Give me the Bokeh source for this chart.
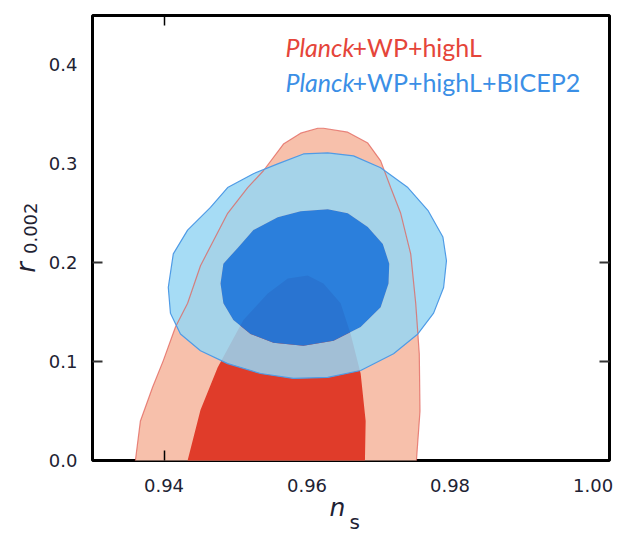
import math
from bokeh.plotting import figure
from bokeh.layouts import row, column
from bokeh.models import Range1d, FixedTicker, LinearAxis, Label
from bokeh.embed import file_html
from bokeh.resources import INLINE

# ---------------- data ----------------
# Planck+WP+highL, 95% region (n_s, r)
red95_ns = [0.9358, 0.9360, 0.9367, 0.9384, 0.9399, 0.9416, 0.9433, 0.9451, 0.9489, 0.9517,
            0.9539, 0.9567, 0.9591, 0.9615, 0.9623, 0.9657, 0.9685, 0.9703, 0.9717, 0.9731,
            0.9745, 0.9752, 0.9757, 0.9758, 0.9753, 0.9752]
red95_r = [-0.02, 0.000, 0.040, 0.074, 0.101, 0.135, 0.159, 0.197, 0.250, 0.276,
           0.293, 0.320, 0.331, 0.336, 0.336, 0.332, 0.321, 0.303, 0.276, 0.250,
           0.209, 0.159, 0.108, 0.050, 0.000, -0.02]
# Planck+WP+highL, 68% region
red68_ns = [0.9430, 0.9433, 0.9451, 0.9475, 0.9511, 0.9545, 0.9573, 0.9601, 0.9623, 0.9647,
            0.9661, 0.9675, 0.9682, 0.9681, 0.9681]
red68_r = [-0.02, 0.000, 0.051, 0.094, 0.142, 0.169, 0.184, 0.187, 0.179, 0.159,
           0.128, 0.088, 0.040, 0.000, -0.02]
# Planck+WP+highL+BICEP2, 95% region
bicep95_ns = [0.9406, 0.9413, 0.9433, 0.9465, 0.9489, 0.9525, 0.9559, 0.9595, 0.9629, 0.9665,
              0.9703, 0.9741, 0.9769, 0.9790, 0.9795, 0.9791, 0.9777, 0.9755, 0.9721, 0.9675,
              0.9629, 0.9581, 0.9535, 0.9489, 0.9451, 0.9423, 0.9409]
bicep95_r = [0.175, 0.209, 0.233, 0.256, 0.276, 0.290, 0.300, 0.310, 0.311, 0.308,
             0.296, 0.276, 0.253, 0.226, 0.202, 0.175, 0.149, 0.128, 0.108, 0.091,
             0.084, 0.083, 0.088, 0.098, 0.111, 0.128, 0.149]
# Planck+WP+highL+BICEP2, 68% region
bicep68_ns = [0.9479, 0.9483, 0.9503, 0.9525, 0.9559, 0.9591, 0.9629, 0.9657, 0.9685, 0.9706,
              0.9715, 0.9714, 0.9703, 0.9675, 0.9637, 0.9595, 0.9553, 0.9521, 0.9497, 0.9483]
bicep68_r = [0.179, 0.199, 0.215, 0.233, 0.246, 0.252, 0.254, 0.250, 0.236, 0.219,
             0.199, 0.179, 0.155, 0.135, 0.121, 0.116, 0.119, 0.128, 0.142, 0.159]

x_ticks = [0.94, 0.96, 0.98, 1.00]
x_tick_labels = ["0.94", "0.96", "0.98", "1.00"]
y_ticks = [0.0, 0.1, 0.2, 0.3, 0.4]
y_tick_labels = ["0.0", "0.1", "0.2", "0.3", "0.4"]
legend_italic = "Planck"
legend_red_rest = "+WP+highL"
legend_blue_rest = "+WP+highL+BICEP2"
x_title, x_title_sub = "n", "s"
y_title, y_title_sub = "r", "0.002"

tick_font = "DejaVu Sans"
tick_color = "#1e2233"

# ---------------- main figure ----------------
p = figure(frame_width=517, frame_height=445,
           x_range=Range1d(0.930, 1.0023), y_range=Range1d(0.0, 0.45),
           output_backend="svg", toolbar_location=None,
           min_border_left=48, min_border_right=23, min_border_top=15, min_border_bottom=40)
p.grid.visible = False
p.outline_line_color = "black"
p.outline_line_width = 3
p.background_fill_color = "white"
p.border_fill_color = "white"

xa = p.xaxis[0]
xa.ticker = FixedTicker(ticks=x_ticks, minor_ticks=[0.94])
xa.major_label_overrides = {t: s for t, s in zip(x_ticks, x_tick_labels)}
xa.major_tick_line_color = None
xa.major_tick_in = 0
xa.major_tick_out = 0
xa.minor_tick_in = 10
xa.minor_tick_out = 0
xa.minor_tick_line_color = "black"
xa.minor_tick_line_width = 1.5
xa.axis_line_color = None
xa.major_label_text_font = tick_font
xa.major_label_text_font_size = "18px"
xa.major_label_text_color = tick_color
xa.major_label_standoff = 18

ya = p.yaxis[0]
ya.ticker = FixedTicker(ticks=y_ticks, minor_ticks=[0.1, 0.2])
ya.major_label_overrides = {t: s for t, s in zip(y_ticks, y_tick_labels)}
ya.major_tick_line_color = None
ya.major_tick_in = 0
ya.major_tick_out = 0
ya.minor_tick_in = 10
ya.minor_tick_out = 0
ya.minor_tick_line_color = "#333333"
ya.minor_tick_line_width = 2
ya.axis_line_color = None
ya.major_label_text_font = tick_font
ya.major_label_text_font_size = "18px"
ya.major_label_text_color = tick_color
ya.major_label_standoff = 15

top = LinearAxis(ticker=FixedTicker(ticks=[0.94], minor_ticks=[]),
                 major_label_text_font_size="1px", major_label_text_color=None,
                 major_label_text_alpha=0, major_label_standoff=0,
                 major_tick_in=10, major_tick_out=0, major_tick_line_width=1.5,
                 minor_tick_line_color=None, axis_line_color=None)
p.add_layout(top, "above")
right = LinearAxis(ticker=FixedTicker(ticks=[0.1, 0.2], minor_ticks=[]),
                   major_label_text_font_size="1px", major_label_text_color=None,
                   major_label_text_alpha=0, major_label_standoff=0,
                   major_tick_in=10, major_tick_out=0, major_tick_line_width=2,
                   major_tick_line_color="#333333",
                   minor_tick_line_color=None, axis_line_color=None)
p.add_layout(right, "right")

# contours
p.patch(red95_ns, red95_r, fill_color="#f7c0ab", line_color=None)
p.patch(red68_ns, red68_r, fill_color="#e03c2a", line_color=None)
p.multi_polygons(xs=[[[bicep95_ns, bicep68_ns]]], ys=[[[bicep95_r, bicep68_r]]],
                 fill_color="#97d6f3", fill_alpha=0.855, line_color=None)
p.patch(bicep68_ns, bicep68_r, fill_color="#1979e0", fill_alpha=0.92, line_color=None)
p.line(red95_ns, red95_r, line_color="#e2615a", line_width=1.2, line_alpha=0.75)
p.patch(bicep95_ns, bicep95_r, fill_color=None, line_color="#4f9be6", line_width=1.2)

# legend texts
leg_font = "Lato"
leg_size = "25px"
p.add_layout(Label(x=0.9570, y=0.4186, text=legend_italic, text_font=leg_font,
                   text_font_style="italic", text_font_size=leg_size, text_color="#e5453a",
                   text_baseline="alphabetic"))
p.add_layout(Label(x=0.96636, y=0.4186, text=legend_red_rest, text_font=leg_font,
                   text_font_size=leg_size, text_color="#e5453a", text_baseline="alphabetic"))
p.add_layout(Label(x=0.9570, y=0.3832, text=legend_italic, text_font=leg_font,
                   text_font_style="italic", text_font_size=leg_size, text_color="#3b8fe6",
                   text_baseline="alphabetic"))
p.add_layout(Label(x=0.96636, y=0.3832, text=legend_blue_rest, text_font=leg_font,
                   text_font_size=leg_size, text_color="#3b8fe6", text_baseline="alphabetic"))


# ---------------- strips holding the axis titles (pixel-space frames) ----------------
def strip(w, h, x0, y0, **kw):
    f = figure(width=w, height=h, x_range=Range1d(x0, x0 + w), y_range=Range1d(y0 + h, y0),
               output_backend="svg", toolbar_location=None, min_border=0,
               x_axis_location=None, y_axis_location=None, **kw)
    f.grid.visible = False
    f.outline_line_color = None
    f.background_fill_color = None
    f.border_fill_color = None
    return f


left = strip(44, 500, 0, 0)
left.add_layout(Label(x=25, y=289, text=y_title, text_font=tick_font,
                      text_font_style="italic", text_font_size="26px", text_color=tick_color,
                      text_baseline="alphabetic", angle=math.pi / 2))
left.add_layout(Label(x=30, y=268, text=y_title_sub, text_font=tick_font,
                      text_font_size="18px", text_color=tick_color,
                      text_baseline="alphabetic", angle=math.pi / 2))

# overlaps the (transparent) lower 20 px of the main figure
bottom = strip(632, 52, 0, 480, margin=(-20, 0, 0, 0))
bottom.add_layout(Label(x=329, y=507, text=x_title, text_font=tick_font,
                        text_font_style="italic", text_font_size="25px", text_color=tick_color,
                        text_baseline="alphabetic"))
bottom.add_layout(Label(x=349, y=521, text=x_title_sub, text_font=tick_font,
                        text_font_size="20px", text_color=tick_color,
                        text_baseline="alphabetic"))

layout = column(row(left, p, spacing=0), bottom, spacing=0)
open("out.html", "w").write(file_html(layout, INLINE))
